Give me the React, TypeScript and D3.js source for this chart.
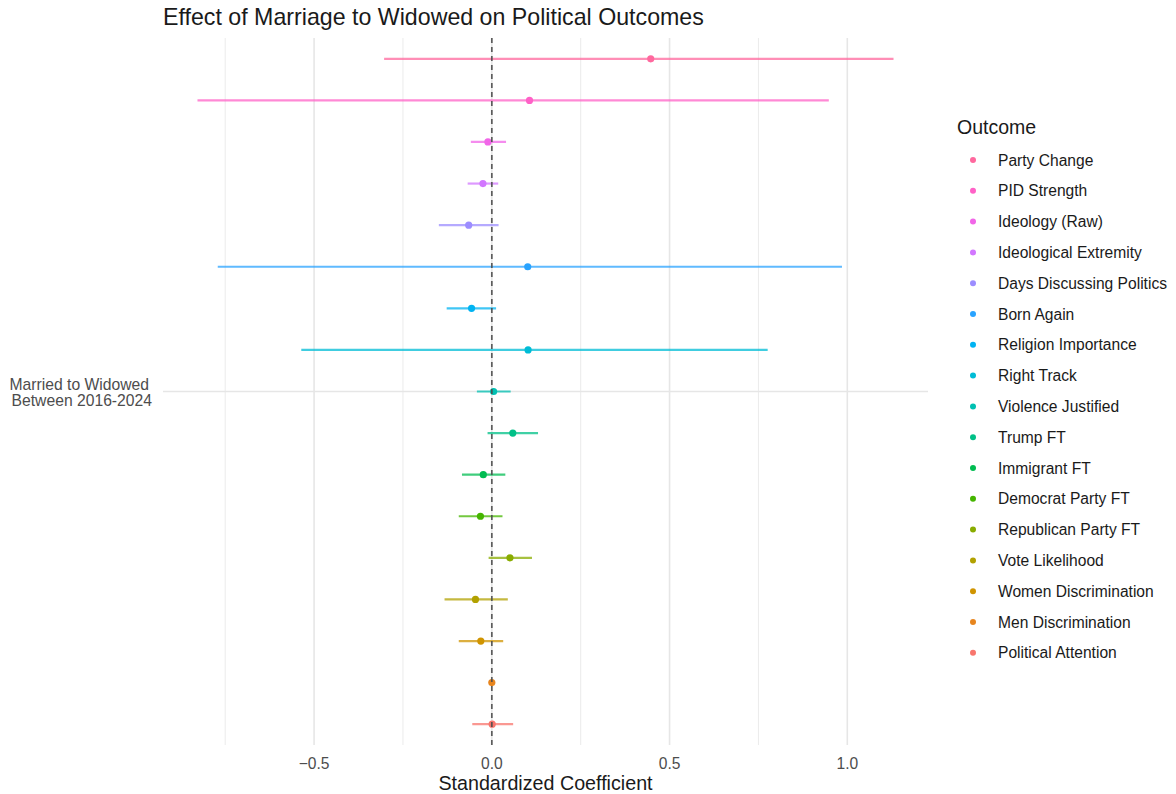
import React, { useEffect, useRef } from "react";
import * as d3 from "d3";

// Outcomes, listed top to bottom as they appear in the plot and legend
const outcomes = [
  "Party Change",
  "PID Strength",
  "Ideology (Raw)",
  "Ideological Extremity",
  "Days Discussing Politics",
  "Born Again",
  "Religion Importance",
  "Right Track",
  "Violence Justified",
  "Trump FT",
  "Immigrant FT",
  "Democrat Party FT",
  "Republican Party FT",
  "Vote Likelihood",
  "Women Discrimination",
  "Men Discrimination",
  "Political Attention",
];

// Standardized coefficients and 95% confidence bounds
const estimates = [0.447, 0.106, -0.011, -0.025, -0.065, 0.101, -0.057, 0.102, 0.005, 0.059, -0.024, -0.032, 0.051, -0.046, -0.031, 0.0, 0.001];
const lowerCI = [-0.303, -0.828, -0.059, -0.068, -0.149, -0.771, -0.127, -0.536, -0.042, -0.012, -0.084, -0.093, -0.009, -0.133, -0.093, -0.004, -0.055];
const upperCI = [1.13, 0.948, 0.04, 0.018, 0.019, 0.985, 0.012, 0.776, 0.053, 0.13, 0.038, 0.03, 0.113, 0.045, 0.032, 0.004, 0.06];

const xTicks = [-0.5, 0, 0.5, 1.0];
const xMinorTicks = [-0.75, -0.25, 0.25, 0.75];
const groupLabel = ["Married to Widowed", "Between 2016-2024"];

const W = 1176;
const H = 794;
const panel = { left: 163, right: 928, top: 38, bottom: 745 };
const FONT = "'Liberation Sans', Arial, Helvetica, sans-serif";

// polar LUV (hcl) -> sRGB hex, same conversion R uses for its hue palette
function hclHex(h: number, c = 100, l = 65): string {
  const hr = (h * Math.PI) / 180;
  const U = c * Math.cos(hr);
  const V = c * Math.sin(hr);
  const Xn = 95.047, Yn = 100.0, Zn = 108.883;
  const Y = Yn * (l > 7.999592 ? Math.pow((l + 16) / 116, 3) : l / 903.3);
  const t = Xn + Yn + Zn;
  const x = Xn / t, y = Yn / t;
  const uN = (2 * x) / (6 * y - x + 1.5);
  const vN = (4.5 * y) / (6 * y - x + 1.5);
  const u = U / (13 * l) + uN;
  const v = V / (13 * l) + vN;
  const X = (9.0 * Y * u) / (4 * v);
  const Z = -X / 3 - 5 * Y + (3 * Y) / v;
  const gam = (q: number) => (q <= 0.0031308 ? 12.92 * q : 1.055 * Math.pow(q, 1 / 2.4) - 0.055);
  const r = gam((3.240479 * X - 1.53715 * Y - 0.498535 * Z) / Yn);
  const g = gam((-0.969256 * X + 1.875992 * Y + 0.041556 * Z) / Yn);
  const b = gam((0.055648 * X - 0.204043 * Y + 1.057311 * Z) / Yn);
  const to = (q: number) => Math.round(Math.max(0, Math.min(1, q)) * 255);
  return d3.rgb(to(r), to(g), to(b)).formatHex();
}

// factor levels run bottom-up, so the last outcome gets the first hue
const n = outcomes.length;
const colorOf = (i: number) => hclHex(15 + ((n - 1 - i) * 360) / n);

export default function App() {
  const ref = useRef<SVGSVGElement | null>(null);

  useEffect(() => {
    document.body.style.margin = "0";
    const svg = d3.select(ref.current);
    svg.selectAll("*").remove();

    const x = d3.scaleLinear().domain([-0.925, 1.227]).range([panel.left, panel.right]);
    const y = d3.scalePoint<string>().domain(outcomes).range([panel.top, panel.bottom]).padding(0.5);
    const yMid = (panel.top + panel.bottom) / 2;

    svg.append("rect").attr("width", W).attr("height", H).attr("fill", "#ffffff");

    // grid
    const grid = svg.append("g");
    grid.selectAll("line.minor").data(xMinorTicks).join("line")
      .attr("x1", (d) => x(d)).attr("x2", (d) => x(d))
      .attr("y1", panel.top).attr("y2", panel.bottom)
      .attr("stroke", "#ebebeb").attr("stroke-width", 1);
    grid.selectAll("line.major").data(xTicks).join("line")
      .attr("x1", (d) => x(d)).attr("x2", (d) => x(d))
      .attr("y1", panel.top).attr("y2", panel.bottom)
      .attr("stroke", "#e6e6e6").attr("stroke-width", 1.6);
    grid.append("line")
      .attr("x1", panel.left).attr("x2", panel.right)
      .attr("y1", yMid).attr("y2", yMid)
      .attr("stroke", "#e6e6e6").attr("stroke-width", 1.6);

    // confidence intervals and estimates
    const marks = svg.append("g");
    outcomes.forEach((o, i) => {
      const c = colorOf(i);
      const yy = y(o) as number;
      marks.append("line")
        .attr("x1", x(lowerCI[i])).attr("x2", x(upperCI[i]))
        .attr("y1", yy).attr("y2", yy)
        .attr("stroke", c).attr("stroke-width", 2.2).attr("stroke-opacity", 0.75);
      marks.append("circle")
        .attr("cx", x(estimates[i])).attr("cy", yy).attr("r", 3.6)
        .attr("fill", c);
    });

    // reference line at zero, on top of the marks
    svg.append("line")
      .attr("x1", x(0)).attr("x2", x(0))
      .attr("y1", panel.top).attr("y2", panel.bottom)
      .attr("stroke", "#4d4d4d").attr("stroke-opacity", 0.9).attr("stroke-width", 1.7)
      .attr("stroke-dasharray", "5,4");

    // x axis labels
    svg.append("g").selectAll("text").data(xTicks).join("text")
      .attr("x", (d) => x(d)).attr("y", 763)
      .attr("text-anchor", "middle").attr("dominant-baseline", "central")
      .attr("font-family", FONT).attr("font-size", 15.6).attr("fill", "#4d4d4d")
      .text((d) => d3.format(".1f")(d));

    svg.append("text")
      .attr("x", (panel.left + panel.right) / 2).attr("y", 783)
      .attr("text-anchor", "middle").attr("dominant-baseline", "central")
      .attr("font-family", FONT).attr("font-size", 19.7).attr("fill", "#1a1a1a")
      .text("Standardized Coefficient");

    // y group label
    const yl = svg.append("text")
      .attr("font-family", FONT).attr("font-size", 15.7).attr("fill", "#4d4d4d")
      .attr("text-anchor", "end");
    groupLabel.forEach((s, k) => {
      yl.append("tspan").attr("x", 149 + k * 3).attr("y", yMid - 2 + k * 16).text(s);
    });

    // title
    svg.append("text")
      .attr("x", panel.left).attr("y", 25)
      .attr("font-family", FONT).attr("font-size", 23.2).attr("fill", "#1a1a1a")
      .text("Effect of Marriage to Widowed on Political Outcomes");

    // legend
    const lg = svg.append("g");
    lg.append("text")
      .attr("x", 957).attr("y", 127).attr("dominant-baseline", "central")
      .attr("font-family", FONT).attr("font-size", 19.5).attr("fill", "#1a1a1a")
      .text("Outcome");
    outcomes.forEach((o, i) => {
      const cy = 160 + i * 30.8;
      lg.append("circle").attr("cx", 973).attr("cy", cy).attr("r", 3).attr("fill", colorOf(i));
      lg.append("text")
        .attr("x", 998).attr("y", cy).attr("dominant-baseline", "central")
        .attr("font-family", FONT).attr("font-size", 15.6).attr("fill", "#1a1a1a")
        .text(o);
    });
  }, []);

  return <svg ref={ref} width={W} height={H} style={{ display: "block" }} />;
}
